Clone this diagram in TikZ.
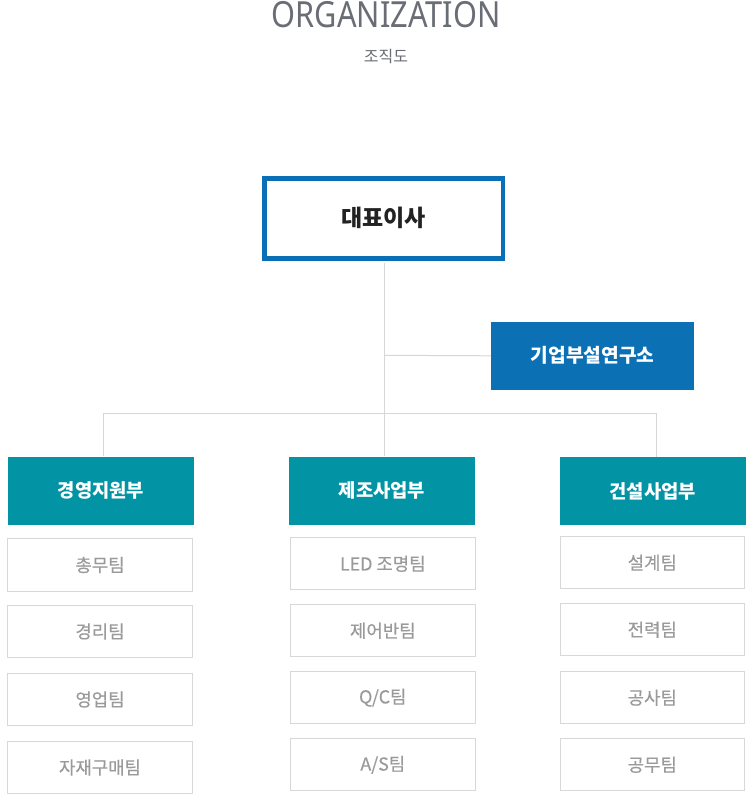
\documentclass[tikz,border=0pt]{standalone}
\usepackage{fontspec}
\setmainfont{Noto Sans CJK KR}
\newfontfamily\titlefont{Noto Sans}
\newfontfamily\teamfont[FakeBold=0.35]{Noto Sans CJK KR}
\definecolor{ceoblue}{HTML}{0A6FB5}
\definecolor{labblue}{HTML}{0B71B4}
\definecolor{teal}{HTML}{0294A5}
\definecolor{linegray}{HTML}{D6D6D6}
\definecolor{teamgray}{HTML}{D8D8D8}
\definecolor{teamtext}{HTML}{9A9A9A}
\definecolor{titlegray}{HTML}{6A6D75}
\definecolor{darktext}{HTML}{222222}
\begin{document}
\begin{tikzpicture}[x=1pt,y=-1pt,
  ceobox/.style={draw=ceoblue,line width=4.5pt,fill=white,minimum width=238.5pt,minimum height=80pt,inner sep=0pt,text=darktext,font=\fontsize{23}{27}\selectfont\bfseries},
  labbox/.style={fill=labblue,minimum width=203pt,minimum height=67.7pt,inner sep=0pt,text=white,font=\fontsize{19.2}{23}\selectfont\bfseries},
  deptbox/.style={fill=teal,minimum width=186pt,minimum height=68.3pt,inner sep=0pt,text=white,font=\fontsize{18.8}{22}\selectfont\bfseries},
  teambox/.style={draw=teamgray,line width=1pt,fill=white,minimum width=184.4pt,minimum height=52.3pt,inner sep=0pt,text=teamtext,font=\teamfont\fontsize{17.8}{21}\selectfont},
  link/.style={draw=linegray,line width=1pt}]
\useasboundingbox (0,0) rectangle (755,802);
\node[text=titlegray,font=\titlefont\fontsize{36}{40}\selectfont,anchor=base,inner sep=0pt] (title) at (386,27.3) {\scalebox{0.853}[1]{ORGANIZATION}};
\node[text=titlegray,font=\fontsize{16}{19}\selectfont] (sub) at (386,56.5) {조직도};

\node[ceobox] (ceo) at (383.5,218.3) {대표이사};
\node[labbox] (lab) at (592.5,355.8) {기업부설연구소};

\node[deptbox] (d1) at (101,490.8) {경영지원부};
\node[deptbox] (d2) at (382,490.8) {제조사업부};
\node[deptbox] (d3) at (652.8,491) {건설사업부};

\node[teambox] (t11) at (100,565) {총무팀};
\node[teambox] (t12) at (100,631.5) {경리팀};
\node[teambox] (t13) at (100,699.5) {영업팀};
\node[teambox] (t14) at (100,767.5) {자재구매팀};

\node[teambox] (t21) at (382.8,563.8) {LED 조명팀};
\node[teambox] (t22) at (382.8,630.8) {제어반팀};
\node[teambox] (t23) at (382.8,697.7) {Q/C팀};
\node[teambox] (t24) at (382.8,764.8) {A/S팀};

\node[teambox] (t31) at (652.3,562.7) {설계팀};
\node[teambox] (t32) at (652.3,629.7) {전력팀};
\node[teambox] (t33) at (652.3,697.7) {공사팀};
\node[teambox] (t34) at (652.3,764.8) {공무팀};

\coordinate (jlab) at (384.3,355.3);
\coordinate (jmid) at (384.3,413.3);
\coordinate (jl) at (103.3,413.3);
\coordinate (jr) at (656,413.3);

\draw[link] (ceo.south -| jmid) ++(0,2.3) -- (d2.north -| jmid);
\draw[link] (jlab) -- (lab.west);
\draw[link] (jl) -- (jr);
\draw[link] (jl) -- (d1.north -| jl);
\draw[link] (jr) -- (d3.north -| jr);
\end{tikzpicture}
\end{document}
